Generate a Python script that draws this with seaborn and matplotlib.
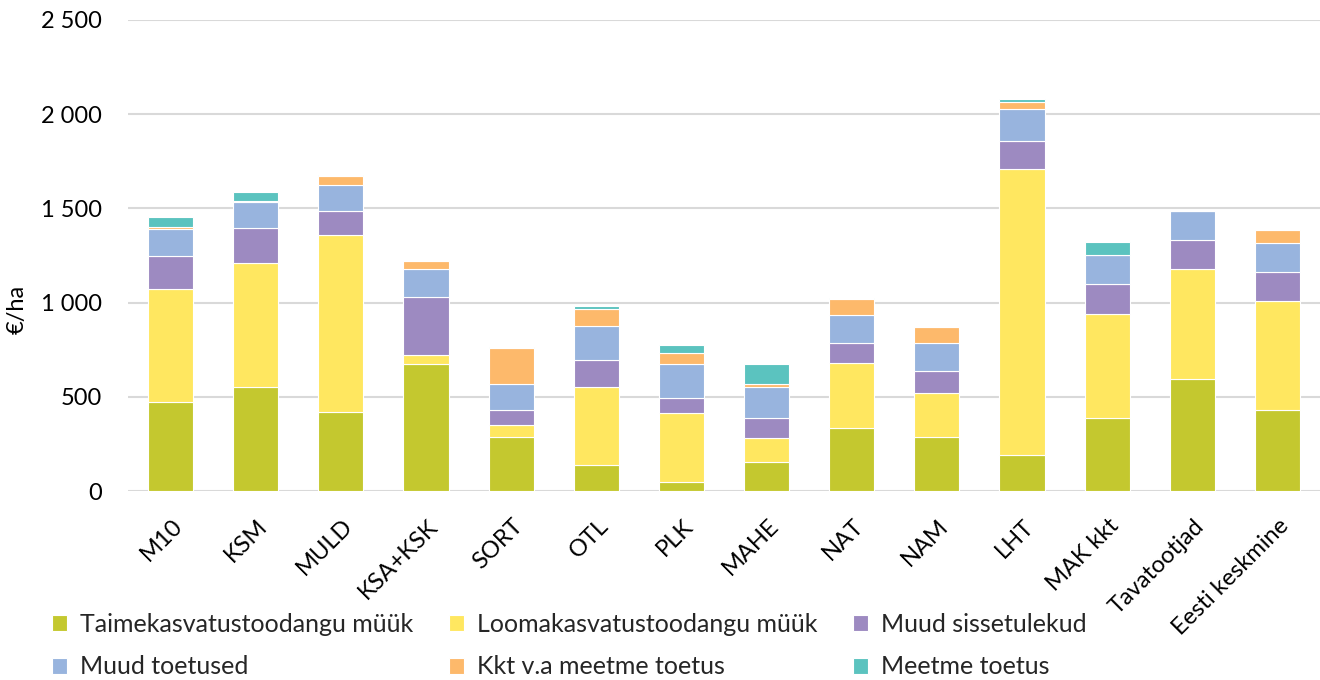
import matplotlib
matplotlib.use("Agg")
import matplotlib.pyplot as plt
import matplotlib.ticker as mticker
import matplotlib.transforms as mtrans
import seaborn as sns
import numpy as np
import pandas as pd

categories = ["M10", "KSM", "MULD", "KSA+KSK", "SORT", "OTL", "PLK", "MAHE",
              "NAT", "NAM", "LHT", "MAK kkt", "Tavatootjad", "Eesti keskmine"]
taime = [474, 551, 421, 676, 289, 136, 50, 156, 336, 289, 191, 390, 597, 432]
looma = [599, 657, 936, 45, 62, 415, 363, 127, 344, 233, 1520, 552, 579, 576]
muud_siss = [174, 186, 131, 311, 81, 143, 83, 106, 103, 117, 149, 158, 154, 157]
muud_toet = [145, 140, 138, 144, 138, 184, 179, 165, 152, 144, 166, 152, 156, 153]
kkt = [11, 7, 47, 44, 191, 89, 56, 14, 83, 85, 37, 0, 0, 65]
meetme = [51, 44, 5, 0, 4, 14, 46, 105, 7, 0, 20, 69, 0, 0]

series_names = ["Taimekasvatustoodangu müük", "Loomakasvatustoodangu müük",
                "Muud sissetulekud", "Muud toetused", "Kkt v.a meetme toetus",
                "Meetme toetus"]
series_vals = [taime, looma, muud_siss, muud_toet, kkt, meetme]
colors = ["#C4C82F", "#FFE760", "#9D8AC1", "#98B4DE", "#FDB96B", "#5BC3BF"]
y_ticks = [0, 500, 1000, 1500, 2000, 2500]

sns.set_theme(style="white")
plt.rcParams["font.family"] = ["Lato", "DejaVu Sans"]

fig = plt.figure(figsize=(13.2, 6.8), dpi=100)
ax = fig.add_axes([128 / 1320, 1 - 491 / 680, 1 - 128 / 1320, 471 / 680])

bottom = np.zeros(len(categories))
for name, vals, col in zip(series_names, series_vals, colors):
    df = pd.DataFrame({"cat": categories, "val": vals})
    sns.barplot(data=df, x="cat", y="val", color=col, bottom=bottom.copy(),
                width=0.53, ax=ax, label=name, edgecolor="white",
                linewidth=0.8, saturation=1, errorbar=None)
    bottom += np.array(vals)

ax.set_ylim(0, 2500)
ax.set_xlim(-0.5, len(categories) - 0.5)
ax.set_yticks(y_ticks)
ax.yaxis.set_major_formatter(mticker.FuncFormatter(
    lambda v, p: f"{int(v):,}".replace(",", " ")))
ax.grid(axis="y", color="#D9D9D9", linewidth=1.5)
ax.set_axisbelow(True)
for s in ax.spines.values():
    s.set_visible(False)
ax.tick_params(axis="both", length=0, labelsize=17, colors="black")
ax.tick_params(axis="y", pad=18.5)
ax.tick_params(axis="x", pad=17.5)
ax.set_xlabel("")
ax.set_ylabel("€/ha", fontsize=17, color="black")
ax.yaxis.set_label_coords(-0.0839, 0.386)

offset = mtrans.ScaledTranslation(1 / 100, 0, fig.dpi_scale_trans)
for lab in ax.get_xticklabels():
    lab.set_rotation(45)
    lab.set_ha("right")
    lab.set_rotation_mode("anchor")
    lab.set_transform(lab.get_transform() + offset)

handles, labels = ax.get_legend_handles_labels()
if ax.get_legend() is not None:
    ax.get_legend().remove()
order = [0, 3, 1, 4, 2, 5]
leg = fig.legend([handles[i] for i in order], [labels[i] for i in order],
                 ncol=3, loc="upper left", bbox_to_anchor=(29 / 1320, 1 - 590 / 680),
                 frameon=False, fontsize=18, handlelength=0.6, handleheight=0.6,
                 handletextpad=0.52, columnspacing=1.44, labelspacing=0.8)

fig.savefig("out.png", dpi=100)
